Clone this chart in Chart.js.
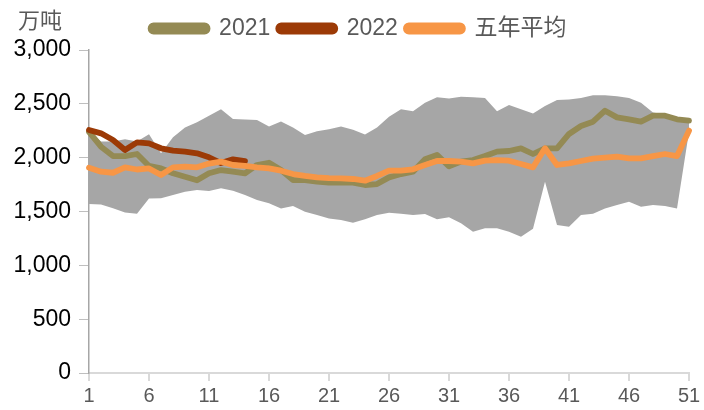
<!DOCTYPE html>
<html>
<head>
<meta charset="utf-8">
<script src="https://cdn.jsdelivr.net/npm/chart.js@4/dist/chart.umd.min.js"></script>
<style>
  html, body { margin: 0; padding: 0; background: #fff; }
</style>
</head>
<body>
<canvas id="c" width="704" height="410"></canvas>
<script>
// weekly categories (week number)
const weeks = [1, 2, 3, 4, 5, 6, 7, 8, 9, 10, 11, 12, 13, 14, 15, 16, 17, 18, 19, 20,
  21, 22, 23, 24, 25, 26, 27, 28, 29, 30, 31, 32, 33, 34, 35, 36, 37, 38, 39, 40,
  41, 42, 43, 44, 45, 46, 47, 48, 49, 50, 51];

const seriesNames = ["2021", "2022", "五年平均"];
const unitText = "万吨";

const y2021 = [2240, 2102, 2015, 2015, 2034, 1923, 1901, 1855, 1823, 1790,
  1855, 1885, 1870, 1855, 1932, 1953, 1885, 1792, 1792, 1777,
  1768, 1770, 1768, 1746, 1755, 1817, 1848, 1870, 1985, 2025,
  1920, 1963, 1978, 2015, 2056, 2062, 2087, 2034, 2087, 2087,
  2220, 2294, 2334, 2436, 2374, 2356, 2334, 2390, 2390, 2356, 2344];

const y2022 = [2257, 2226, 2164, 2071, 2142, 2133, 2087, 2065, 2056, 2040,
  2003, 1950, 1985, 1969];

const avg5y = [1907, 1870, 1860, 1910, 1890, 1900, 1839, 1910, 1916, 1910,
  1945, 1963, 1932, 1923, 1910, 1900, 1879, 1848, 1830, 1817,
  1810, 1808, 1802, 1786, 1830, 1879, 1879, 1892, 1932, 1969,
  1969, 1963, 1947, 1972, 1978, 1972, 1941, 1910, 2087, 1932,
  1947, 1969, 1991, 2000, 2009, 1994, 1994, 2015, 2034, 2015, 2251];

// five-year range (max / min)
const rangeMax = [2250, 2150, 2150, 2170, 2150, 2217, 2040, 2190, 2280, 2330,
  2390, 2450, 2360, 2355, 2350, 2290, 2335, 2280, 2210, 2245,
  2265, 2290, 2260, 2215, 2280, 2380, 2450, 2430, 2510, 2560,
  2550, 2565, 2560, 2555, 2430, 2490, 2450, 2410, 2480, 2535,
  2540, 2555, 2580, 2580, 2570, 2555, 2510, 2420, 2400, 2370, 2350];

const rangeMin = [1570, 1565, 1530, 1490, 1480, 1620, 1622, 1653, 1684, 1700,
  1690, 1715, 1693, 1653, 1607, 1576, 1529, 1551, 1498, 1467,
  1436, 1421, 1396, 1427, 1467, 1489, 1480, 1467, 1477, 1427,
  1446, 1390, 1313, 1344, 1344, 1313, 1266, 1340, 1777, 1375,
  1359, 1467, 1480, 1529, 1560, 1591, 1545, 1560, 1551, 1529, 2240];

const yTicks = { min: 0, max: 3000, step: 500 };

const olive = "#948a54";
const rust = "#9c3a06";
const orange = "#f79646";
const bandGray = "#a6a6a6";

const lineStyle = {
  borderWidth: 5.8,
  pointRadius: 0,
  pointHoverRadius: 0,
  tension: 0,
  fill: false,
  borderCapStyle: "round",
  borderJoinStyle: "round",
};

// fixed legend height so the plot top lands where the reference has it,
// and nudge it a little to sit where the original legend sits
const legendTweak = {
  id: "legendTweak",
  beforeInit(chart) {
    const legend = chart.legend;
    const fit = legend.fit;
    legend.fit = function () {
      fit.bind(legend)();
      this.height = 43;
    };
    const draw = legend.draw;
    legend.draw = function () {
      const ctx = chart.ctx;
      ctx.save();
      ctx.translate(14, 2);
      draw.bind(legend)();
      ctx.restore();
    };
  },
};

const unitLabel = {
  id: "unitLabel",
  afterDraw(chart) {
    const ctx = chart.ctx;
    ctx.save();
    ctx.font = "22px 'Noto Sans CJK SC'";
    ctx.fillStyle = "#595959";
    ctx.textBaseline = "middle";
    ctx.fillText(unitText, 18, 20);
    ctx.restore();
  },
};

new Chart(document.getElementById("c"), {
  type: "line",
  data: {
    labels: weeks,
    datasets: [
      { ...lineStyle, label: seriesNames[0], data: y2021, borderColor: olive, backgroundColor: olive, order: 3 },
      { ...lineStyle, label: seriesNames[1], data: y2022, borderColor: rust, backgroundColor: rust, order: 2 },
      { ...lineStyle, label: seriesNames[2], data: avg5y, borderColor: orange, backgroundColor: orange, order: 1 },
      { label: "max", data: rangeMax, borderWidth: 0, pointRadius: 0, pointHoverRadius: 0,
        backgroundColor: bandGray, borderColor: bandGray, fill: "+1", order: 10 },
      { label: "min", data: rangeMin, borderWidth: 0, pointRadius: 0, pointHoverRadius: 0,
        backgroundColor: bandGray, borderColor: bandGray, fill: false, order: 11 },
    ],
  },
  options: {
    responsive: false,
    animation: false,
    layout: { padding: { top: 7, left: 0, right: 15, bottom: 0 } },
    plugins: {
      tooltip: { enabled: false },
      legend: {
        position: "top",
        labels: {
          filter: (item) => item.datasetIndex < 3,
          sort: (a, b) => a.datasetIndex - b.datasetIndex,
          boxWidth: 57,
          boxHeight: 6,
          useBorderRadius: true,
          borderRadius: 3,
          padding: 8,
          color: "#595959",
          font: { size: 23, family: "'Liberation Sans', 'Noto Sans CJK SC', sans-serif" },
        },
      },
    },
    scales: {
      x: {
        offset: false,
        afterFit: (scale) => { scale.height = 37; },
        border: { display: true, color: "#d9d9d9", width: 2 },
        grid: {
          drawOnChartArea: false,
          drawTicks: true,
          tickLength: 8,
          color: (ctx) => (ctx.index % 5 === 0 ? "#d9d9d9" : "rgba(0,0,0,0)"),
          lineWidth: 2,
        },
        ticks: {
          autoSkip: false,
          maxRotation: 0,
          padding: 3,
          color: "#595959",
          font: { size: 20, family: "'Liberation Sans', sans-serif" },
          callback: (v, i) => (i % 5 === 0 ? weeks[i] : ""),
        },
      },
      y: {
        min: yTicks.min,
        max: yTicks.max,
        afterFit: (scale) => { scale.width = 89; },
        border: { display: true, color: "#a6a6a6", width: 1.5 },
        grid: { drawOnChartArea: false, drawTicks: true, tickLength: 10, color: "#bfbfbf" },
        ticks: {
          stepSize: yTicks.step,
          padding: 8,
          color: "#000",
          font: { size: 23, family: "'Liberation Sans', sans-serif" },
        },
      },
    },
  },
  plugins: [legendTweak, unitLabel],
});
</script>
</body>
</html>
